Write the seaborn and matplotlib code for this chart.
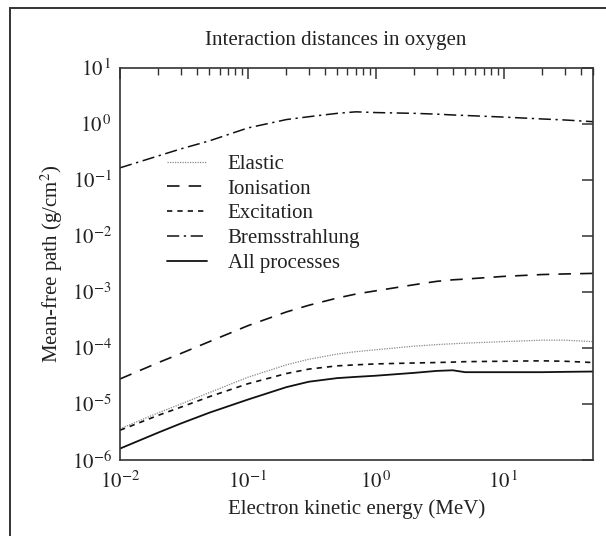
import matplotlib
matplotlib.use("Agg")
import matplotlib.pyplot as plt
import seaborn as sns
import pandas as pd
from matplotlib.patches import Rectangle
from matplotlib.ticker import FuncFormatter, NullLocator
import numpy as np

# ---- data ----
energy = [0.01, 0.02, 0.03, 0.05, 0.1, 0.2, 0.3, 0.5, 0.7, 1, 2, 3, 4, 5, 10, 20, 30, 50]
elastic = [3.6e-6, 7e-6, 1.0e-5, 1.6e-5, 3.0e-5, 5.0e-5, 6.3e-5, 7.8e-5, 8.6e-5, 9.3e-5,
           1.08e-4, 1.15e-4, 1.19e-4, 1.22e-4, 1.30e-4, 1.38e-4, 1.38e-4, 1.30e-4]
ionisation = [2.8e-5, 5.5e-5, 8e-5, 1.3e-4, 2.5e-4, 4.4e-4, 5.8e-4, 7.8e-4, 9.2e-4, 1.05e-3,
              1.35e-3, 1.55e-3, 1.65e-3, 1.7e-3, 1.9e-3, 2.05e-3, 2.1e-3, 2.15e-3]
excitation = [3.4e-6, 6.3e-6, 8.8e-6, 1.35e-5, 2.3e-5, 3.5e-5, 4.2e-5, 4.8e-5, 5.0e-5, 5.2e-5,
              5.4e-5, 5.5e-5, 5.6e-5, 5.7e-5, 5.8e-5, 5.9e-5, 5.8e-5, 5.5e-5]
bremsstrahlung = [0.165, 0.27, 0.36, 0.5, 0.85, 1.2, 1.35, 1.55, 1.65, 1.6,
                  1.55, 1.5, 1.45, 1.42, 1.33, 1.23, 1.18, 1.1]
all_processes = [1.6e-6, 3.1e-6, 4.5e-6, 7e-6, 1.2e-5, 2.0e-5, 2.5e-5, 2.9e-5, 3.05e-5, 3.2e-5,
                 3.6e-5, 3.9e-5, 4.0e-5, 3.7e-5, 3.7e-5, 3.7e-5, 3.75e-5, 3.8e-5]

series = {
    "Elastic": elastic,
    "Ionisation": ionisation,
    "Excitation": excitation,
    "Bremsstrahlung": bremsstrahlung,
    "All processes": all_processes,
}
x_ticks = [0.01, 0.1, 1, 10]
y_ticks = [1e-6, 1e-5, 1e-4, 1e-3, 1e-2, 1e-1, 1, 10]
title = "Interaction distances in oxygen"
xlabel = "Electron kinetic energy (MeV)"
ylabel = "Mean-free path (g/cm$^2$)"

# ---- styling ----
sns.set_theme(style="white")
plt.rcParams["font.family"] = ["Liberation Serif", "DejaVu Serif"]
plt.rcParams["mathtext.fontset"] = "stix"

styles = {
    "Elastic": dict(color="#888888", lw=0.9, ls=(0, (1, 1))),
    "Ionisation": dict(color="#111111", lw=1.2, ls=(0, (7.5, 5.5))),
    "Excitation": dict(color="#111111", lw=1.2, ls=(0, (3.2, 3))),
    "Bremsstrahlung": dict(color="#111111", lw=1.1, ls=(0, (8, 3, 1.5, 3))),
    "All processes": dict(color="#111111", lw=1.3, ls="-"),
}

FS = 15

fig = plt.figure(figsize=(6.06, 5.36), dpi=100)
ax = fig.add_axes([120 / 606, 1 - 460 / 536, 473 / 606, 392 / 536])

for name, vals in series.items():
    df = pd.DataFrame({"E": energy, "v": vals})
    st = styles[name]
    sns.lineplot(data=df, x="E", y="v", ax=ax, color=st["color"], linewidth=st["lw"],
                 linestyle=st["ls"], label=name, sort=True)

ax.set_xscale("log")
ax.set_yscale("log")
ax.set_xlim(0.01, 50)
ax.set_ylim(1e-6, 10)
ax.set_yticks(y_ticks)
ax.set_xticks(x_ticks)
ax.yaxis.set_minor_locator(NullLocator())


def pow_fmt(v, pos):
    e = int(round(np.log10(v)))
    if e < 0:
        return r"$10^{%d}$" % e
    return r"$10^{\,%d}$" % e


ax.xaxis.set_major_formatter(FuncFormatter(pow_fmt))
ax.yaxis.set_major_formatter(FuncFormatter(pow_fmt))

for s in ax.spines.values():
    s.set_color("#333333")
    s.set_linewidth(1.2)

ax.tick_params(which="both", direction="in", top=True, right=True, colors="#333333",
               labelcolor="#222222", labelsize=FS)
ax.tick_params(which="major", length=8, width=1.1, pad=6)
ax.tick_params(which="minor", length=5, width=1.0)
ax.tick_params(axis="x", which="major", pad=8)

ax.set_xlabel(xlabel, fontsize=FS, color="#222222", labelpad=5)
ax.set_ylabel(ylabel, fontsize=FS, color="#222222", labelpad=5)
fig.text(336 / 606, 1 - 40 / 536, title, ha="center", va="center", fontsize=FS, color="#222222")

leg = ax.legend(loc="upper left", bbox_to_anchor=(0.1, 0.78), frameon=False,
                fontsize=FS, handlelength=1.9, handletextpad=1.0, labelspacing=0.25,
                borderpad=0, borderaxespad=0)
for t in leg.get_texts():
    t.set_color("#222222")

# figure frame
fig.patches.append(Rectangle((10 / 606, -0.1), 1.2, 1 - 7.5 / 536 + 0.1, transform=fig.transFigure,
                             fill=False, edgecolor="#333333", linewidth=1.4))

fig.savefig("out.png", dpi=100)
